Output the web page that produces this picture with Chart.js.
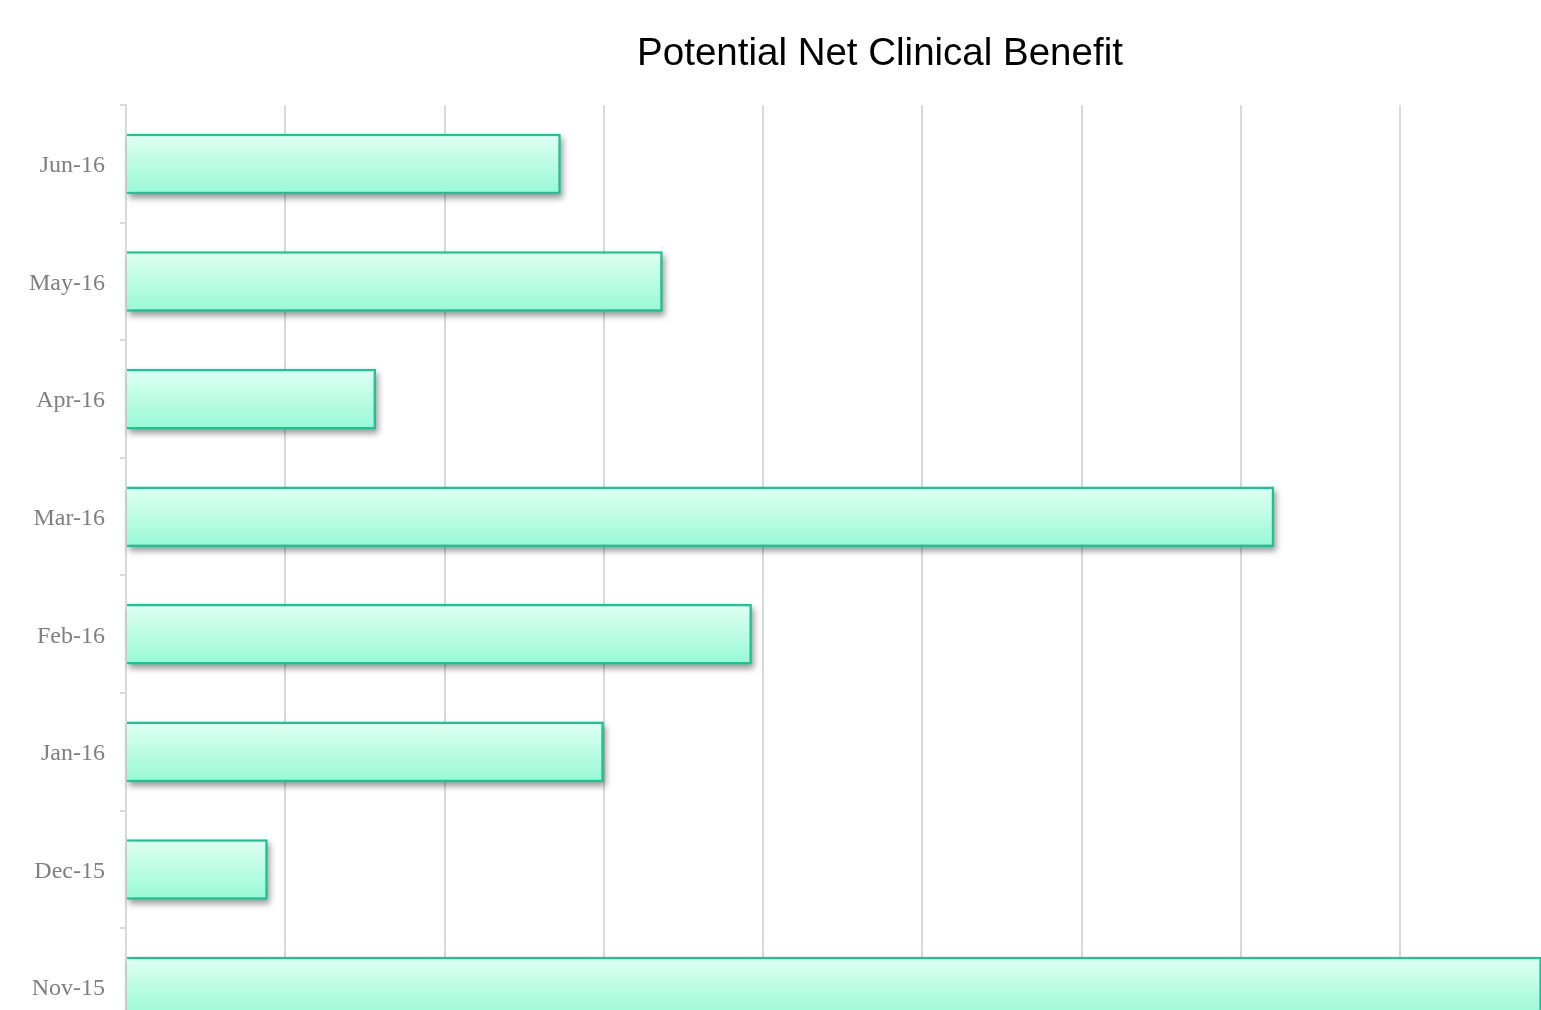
<!DOCTYPE html>
<html>
<head>
<meta charset="utf-8">
<script src="https://cdn.jsdelivr.net/npm/chart.js@4.4.1/dist/chart.umd.min.js"></script>
<style>
  html, body { margin: 0; padding: 0; background: #fff; overflow: hidden; }
  #wrap { width: 1760px; height: 1077px; }
</style>
</head>
<body>
<div id="wrap"><canvas id="benefitChart" width="1760" height="1077"></canvas></div>
<script>
// months, top to bottom as in the picture
const months = ['Jun-16', 'May-16', 'Apr-16', 'Mar-16', 'Feb-16', 'Jan-16', 'Dec-15', 'Nov-15'];
const benefit = [2.73, 3.37, 1.57, 7.21, 3.93, 3.0, 0.89, 8.89];
const xTicks = [0, 1, 2, 3, 4, 5, 6, 7, 8, 9, 10];
const xMax = 10.26;

const barShare = 0.515;

// soft drop shadow under each bar
const barShadow = {
    id: 'barShadow',
    beforeDatasetsDraw(chart) {
        const ctx = chart.ctx;
        const meta = chart.getDatasetMeta(0);
        ctx.save();
        ctx.fillStyle = 'rgba(0, 0, 0, 0.4)';
        ctx.filter = 'blur(3px)';
        meta.data.forEach(bar => {
            const p = bar.getProps(['x', 'y', 'base', 'height'], true);
            ctx.fillRect(p.base + 2, p.y - p.height / 2 + 4, p.x - p.base, p.height);
        });
        ctx.restore();
    }
};

new Chart(document.getElementById('benefitChart'), {
    type: 'bar',
    data: {
        labels: months,
        datasets: [{
            label: 'Potential Net Clinical Benefit',
            data: benefit,
            backgroundColor: function (c) {
                const ch = c.chart;
                const y = ch.scales.y;
                if (!y || !ch.chartArea) return '#bafce4';
                const cy = y.getPixelForValue(c.dataIndex);
                const h = (y.height / months.length) * barShare;
                const g = ch.ctx.createLinearGradient(0, cy - h / 2, 0, cy + h / 2);
                g.addColorStop(0, '#e0fff3');
                g.addColorStop(1, '#97f9d5');
                return g;
            },
            borderColor: '#14c793',
            borderWidth: 2.5,
            categoryPercentage: 1,
            barPercentage: barShare
        }]
    },
    options: {
        indexAxis: 'y',
        responsive: false,
        animation: false,
        layout: { padding: 0 },
        scales: {
            x: {
                min: 0,
                max: xMax,
                afterBuildTicks: s => { s.ticks = xTicks.map(v => ({ value: v })); },
                grid: { color: '#d9d9d9', lineWidth: 2, drawTicks: false },
                border: { display: false },
                ticks: { color: '#7f7f7f', font: { family: 'Liberation Serif', size: 21 } }
            },
            y: {
                afterFit: s => { s.width = 126; },
                grid: { display: true, drawOnChartArea: false, offset: true, tickLength: 6, color: '#d9d9d9', lineWidth: 2 },
                border: { color: '#d9d9d9', width: 2 },
                ticks: {
                    color: '#7f7f7f',
                    padding: 15,
                    labelOffset: 2,
                    font: { family: 'Liberation Serif', size: 24 }
                }
            }
        },
        plugins: {
            legend: { display: false },
            tooltip: { enabled: false },
            title: {
                display: true,
                text: 'Potential Net Clinical Benefit',
                color: '#000',
                font: { family: 'Liberation Sans', size: 38.5, weight: 'normal' },
                padding: { top: 31, bottom: 28 }
            }
        }
    },
    plugins: [barShadow]
});
</script>
</body>
</html>
